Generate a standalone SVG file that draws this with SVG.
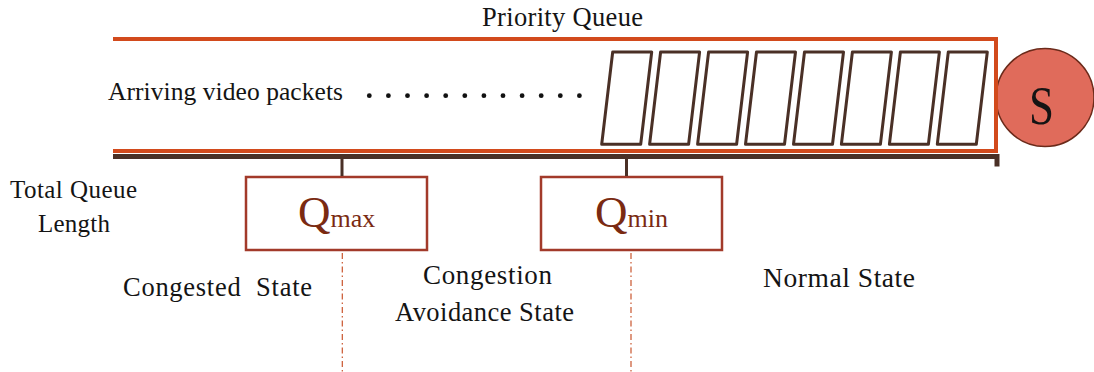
<svg xmlns="http://www.w3.org/2000/svg" width="1094" height="372" viewBox="0 0 1094 372">
  <style>
    .lbl { font-family: "Liberation Serif", "DejaVu Serif", serif; fill: #141414; }
    .q { font-family: "Liberation Serif", "DejaVu Serif", serif; fill: #7a2a12; }
    .box { fill: #ffffff; stroke: #a23a2a; stroke-width: 2.5; }
    .tick { stroke: #4a3026; stroke-width: 3; fill: none; }
    .bound { stroke: #c9552d; stroke-width: 1.2; stroke-dasharray: 6 3 1.5 3; fill: none; }
    .pkt { fill: #ffffff; stroke: #4a3026; stroke-width: 3; stroke-linejoin: round; }
  </style>
  <defs>
    <polygon id="packet" points="0,52 39,52 28,144.3 -11,144.3"/>
  </defs>

  <rect width="1094" height="372" fill="#ffffff"/>

  <!-- server -->
  <g id="server">
    <circle cx="1045" cy="97.5" r="49" fill="#e06b5b" stroke="#6b2a1a" stroke-width="1.5"/>
    <text class="lbl" x="1041.5" y="124" font-size="54" text-anchor="middle" textLength="25" lengthAdjust="spacingAndGlyphs">S</text>
  </g>

  <!-- queue buffer -->
  <g id="queue">
    <path d="M113,39 H996 V151 H113" fill="none" stroke="#d24a1c" stroke-width="4"/>
    <line x1="113" y1="156.5" x2="999" y2="156.5" stroke="#4a3026" stroke-width="5"/>
    <line x1="997" y1="154" x2="997" y2="166.5" stroke="#4a3026" stroke-width="5"/>
    <text class="lbl" x="482" y="26" font-size="26.5" textLength="161">Priority Queue</text>
    <text class="lbl" x="108" y="100" font-size="25.5" textLength="235">Arriving video packets</text>
    <g fill="#111111">
      <circle cx="369.3" cy="95.7" r="2.4"/><circle cx="388.4" cy="95.7" r="2.4"/>
      <circle cx="407.5" cy="95.7" r="2.4"/><circle cx="426.6" cy="95.7" r="2.4"/>
      <circle cx="445.7" cy="95.7" r="2.4"/><circle cx="464.8" cy="95.7" r="2.4"/>
      <circle cx="483.9" cy="95.7" r="2.4"/><circle cx="503.0" cy="95.7" r="2.4"/>
      <circle cx="522.1" cy="95.7" r="2.4"/><circle cx="541.2" cy="95.7" r="2.4"/>
      <circle cx="560.3" cy="95.7" r="2.4"/><circle cx="579.4" cy="95.7" r="2.4"/>
    </g>
    <use href="#packet" class="pkt" x="612.7"/>
    <use href="#packet" class="pkt" x="660.6"/>
    <use href="#packet" class="pkt" x="708.6"/>
    <use href="#packet" class="pkt" x="756.5"/>
    <use href="#packet" class="pkt" x="804.5"/>
    <use href="#packet" class="pkt" x="852.4"/>
    <use href="#packet" class="pkt" x="900.4"/>
    <use href="#packet" class="pkt" x="948.3"/>
  </g>

  <!-- threshold markers -->
  <g id="qmax">
    <rect class="box" x="246" y="177" width="181" height="73"/>
    <text class="q" x="298" y="227" font-size="45">Q<tspan font-size="26">max</tspan></text>
  </g>
  <g id="qmin">
    <rect class="box" x="541" y="177" width="181" height="73"/>
    <text class="q" x="595" y="227" font-size="45">Q<tspan font-size="26">min</tspan></text>
  </g>

  <!-- connectors -->
  <g id="connectors">
    <line class="tick" x1="342" y1="158" x2="342" y2="176"/>
    <line class="tick" x1="626.5" y1="158" x2="626.5" y2="176"/>
    <line class="bound" x1="342.3" y1="253" x2="342.3" y2="372"/>
    <line class="bound" x1="631" y1="253" x2="631" y2="372"/>
  </g>

  <!-- axis and state labels -->
  <g id="labels">
    <text class="lbl" x="10" y="198" font-size="25" textLength="127">Total Queue</text>
    <text class="lbl" x="38" y="232" font-size="25" textLength="72">Length</text>
    <text class="lbl" x="123" y="296" font-size="26.5" textLength="189" style="white-space:pre">Congested  State</text>
    <text class="lbl" x="423" y="284" font-size="27" textLength="129">Congestion</text>
    <text class="lbl" x="395" y="321" font-size="26.5" textLength="179">Avoidance State</text>
    <text class="lbl" x="763" y="287" font-size="27.5" textLength="152">Normal State</text>
  </g>
</svg>
